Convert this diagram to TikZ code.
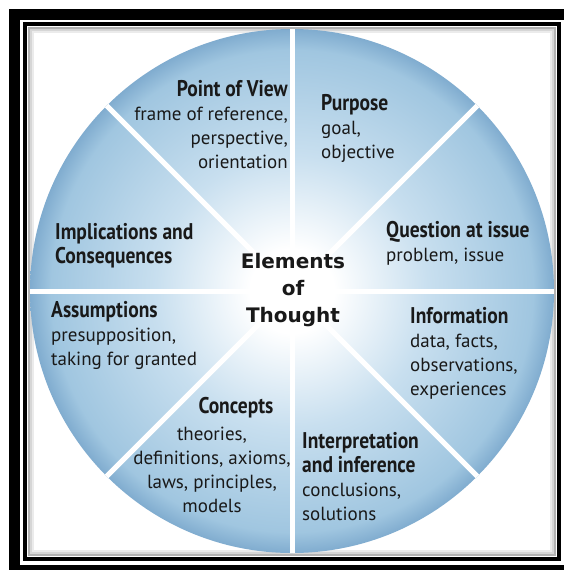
\documentclass[tikz,border=0pt]{standalone}
\usepackage{fontspec}
\setmainfont{PT Sans}
\newfontfamily\headfont{PT Sans}[FakeStretch=0.86]
\newfontfamily\centerfont{DejaVu Sans}
\usetikzlibrary{positioning}
\definecolor{eotmid}{RGB}{200,223,239}
\definecolor{eotouter}{RGB}{160,198,224}
\definecolor{eotrim}{RGB}{128,172,207}
\pgfdeclareradialshading{eotshade}{\pgfpoint{0bp}{0bp}}{%
  color(0bp)=(white); color(4bp)=(white); color(13bp)=(eotmid);
  color(23bp)=(eotouter); color(25bp)=(eotrim); color(50bp)=(eotrim)}
\newcommand\eothead[1]{{\headfont\bfseries\fontsize{22.7}{25}\selectfont #1}}
\tikzset{
  element/.style={inner sep=0pt, font=\fontsize{19}{24}\selectfont, text=black!90},
  divider/.style={white, line width=5pt},
}
\begin{document}
\begin{tikzpicture}[x=1pt,y=-1pt]
  \useasboundingbox (0,0) rectangle (563,570);
  \fill[white] (0,0) rectangle (563,570);
  \draw[line width=11pt] (14.5,14.5) rectangle (570.5,570.5);
  \draw[line width=4pt] (25,24) rectangle (559,559);
  \foreach \d/\s in {4/30,6/16,8/8}
    \draw[black!\s, line width=2pt] (25+\d,24+\d) rectangle (559-\d,559-\d);

  \coordinate (c) at (292,291);
  \shade[shading=eotshade] (c) circle (262);
  \foreach \a in {0,45,...,315}
    \draw[divider] (c) -- ++(\a:262);

  \node[element, font=\centerfont\bfseries\fontsize{20}{27}\selectfont, align=center]
    (thought) at (293,290) {Elements\\of\\Thought};

  \node[element, anchor=north east, align=right] (view) at (288,80)
    {\eothead{Point of View}\\frame of reference,\\perspective,\\orientation};
  \node[element, anchor=north west, align=left] (purpose) at (321,94)
    {\eothead{Purpose}\\goal,\\objective};
  \node[element, anchor=north west, align=left] (question) at (386,221)
    {\eothead{Question at issue}\\problem, issue};
  \node[element, anchor=north west, align=left] (information) at (410,307)
    {\eothead{Information}\\data, facts,\\observations,\\experiences};
  \node[element, anchor=north west, align=left] (interpretation) at (302,432)
    {\eothead{Interpretation}\\\eothead{and inference}\\conclusions,\\solutions};
  \node[element, font=\headfont\bfseries\fontsize{22.7}{25}\selectfont] (conhead) at (236,408) {Concepts};
  \node[element, anchor=north, align=center, below=8pt of conhead, xshift=-24pt] (concepts)
    {theories,\\definitions, axioms,\\laws, principles,\\models};
  \node[element, anchor=north west, align=left] (assumptions) at (51,301)
    {\eothead{Assumptions}\\presupposition,\\taking for granted};
  \node[element, anchor=north west, align=left] (implications) at (55,223)
    {\eothead{Implications and}\\\eothead{Consequences}};
\end{tikzpicture}
\end{document}
